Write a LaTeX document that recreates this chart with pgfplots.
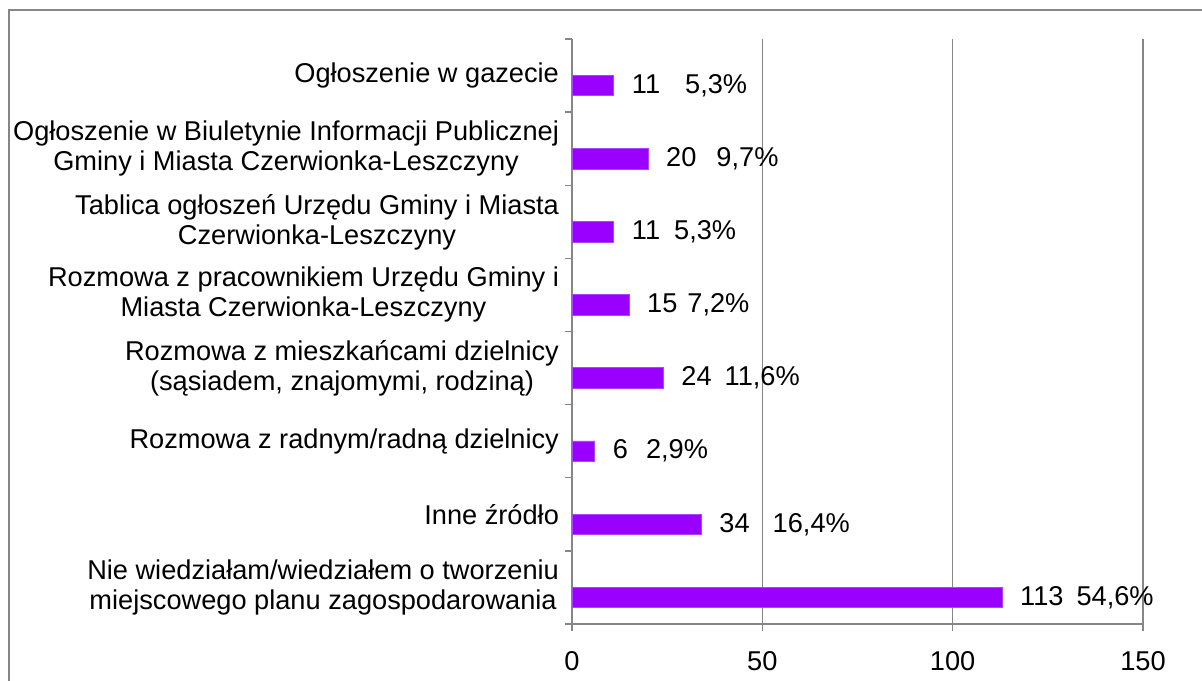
\documentclass[border=0pt]{standalone}
\usepackage{pgfplots}
\pgfplotsset{compat=1.18}
\usepackage{fontspec}
\setmainfont{Liberation Sans}
\definecolor{barpurple}{HTML}{9900FF}
\definecolor{baredge}{HTML}{AA44FF}
\definecolor{axgray}{HTML}{868686}
\newcommand{\lf}{\fontsize{13.6}{15}\selectfont}
\begin{document}
\begin{tikzpicture}
\useasboundingbox (0,0) rectangle (601pt,340pt);
\draw[axgray, line width=0.75pt] (4.5pt,-2pt) -- (4.5pt,335pt) -- (610pt,335pt);
\begin{axis}[
  at={(286pt,28pt)}, anchor=south west,
  scale only axis, width=285.5pt, height=292.5pt,
  xmin=0, xmax=150, ymin=0.5, ymax=8.5,
  axis lines*=left,
  axis line style={axgray, line width=0.65pt},
  xtick={0,50,100,150},
  ytick={0.5,1.5,2.5,3.5,4.5,5.5,6.5,7.5,8.5},
  yticklabels={},
  tick align=outside, major tick length=3.5pt,
  tick style={axgray, line width=0.65pt},
  xmajorgrids, grid style={axgray, line width=0.6pt},
  /pgf/number format/assume math mode=true,
  xticklabel style={font=\lf, text=black, yshift=-6.5pt},
  extra y ticks={1,2,3,4,5,6,7,8},
  extra y tick labels={
    {Nie wiedziałam/wiedziałem o tworzeniu\\miejscowego planu zagospodarowania},
    {Inne źródło},
    {Rozmowa z radnym/radną dzielnicy},
    {Rozmowa z mieszkańcami dzielnicy\\(sąsiadem, znajomymi, rodziną)},
    {Rozmowa z pracownikiem Urzędu Gminy i\\Miasta Czerwionka-Leszczyny},
    {Tablica ogłoszeń Urzędu Gminy i Miasta\\Czerwionka-Leszczyny},
    {Ogłoszenie w Biuletynie Informacji Publicznej\\Gminy i Miasta Czerwionka-Leszczyny},
    {Ogłoszenie w gazecie}},
  extra y tick style={major tick length=0pt, grid=none,
    yticklabel style={align=center, font=\lf, text=black, xshift=-3pt}},
]
\addplot[xbar, bar width=0.28, fill=barpurple, draw=baredge, line width=0.4pt,
  nodes near coords, point meta=explicit symbolic,
  nodes near coords style={anchor=west, font=\lf, text=black, xshift=5.5pt}]
  coordinates {
    (113,0.863) [113\hspace{6.5pt}54,6\%]
    (34,1.863) [34\hspace{11.5pt}16,4\%]
    (6,2.863) [6\hspace{9pt}2,9\%]
    (24,3.863) [24\hspace{6.5pt}11,6\%]
    (15,4.863) [15\hspace{5pt}7,2\%]
    (11,5.863) [11\hspace{7pt}5,3\%]
    (20,6.863) [20\hspace{10pt}9,7\%]
    (11,7.863) [11\hspace{12.5pt}5,3\%]
  };
\end{axis}
\end{tikzpicture}
\end{document}
